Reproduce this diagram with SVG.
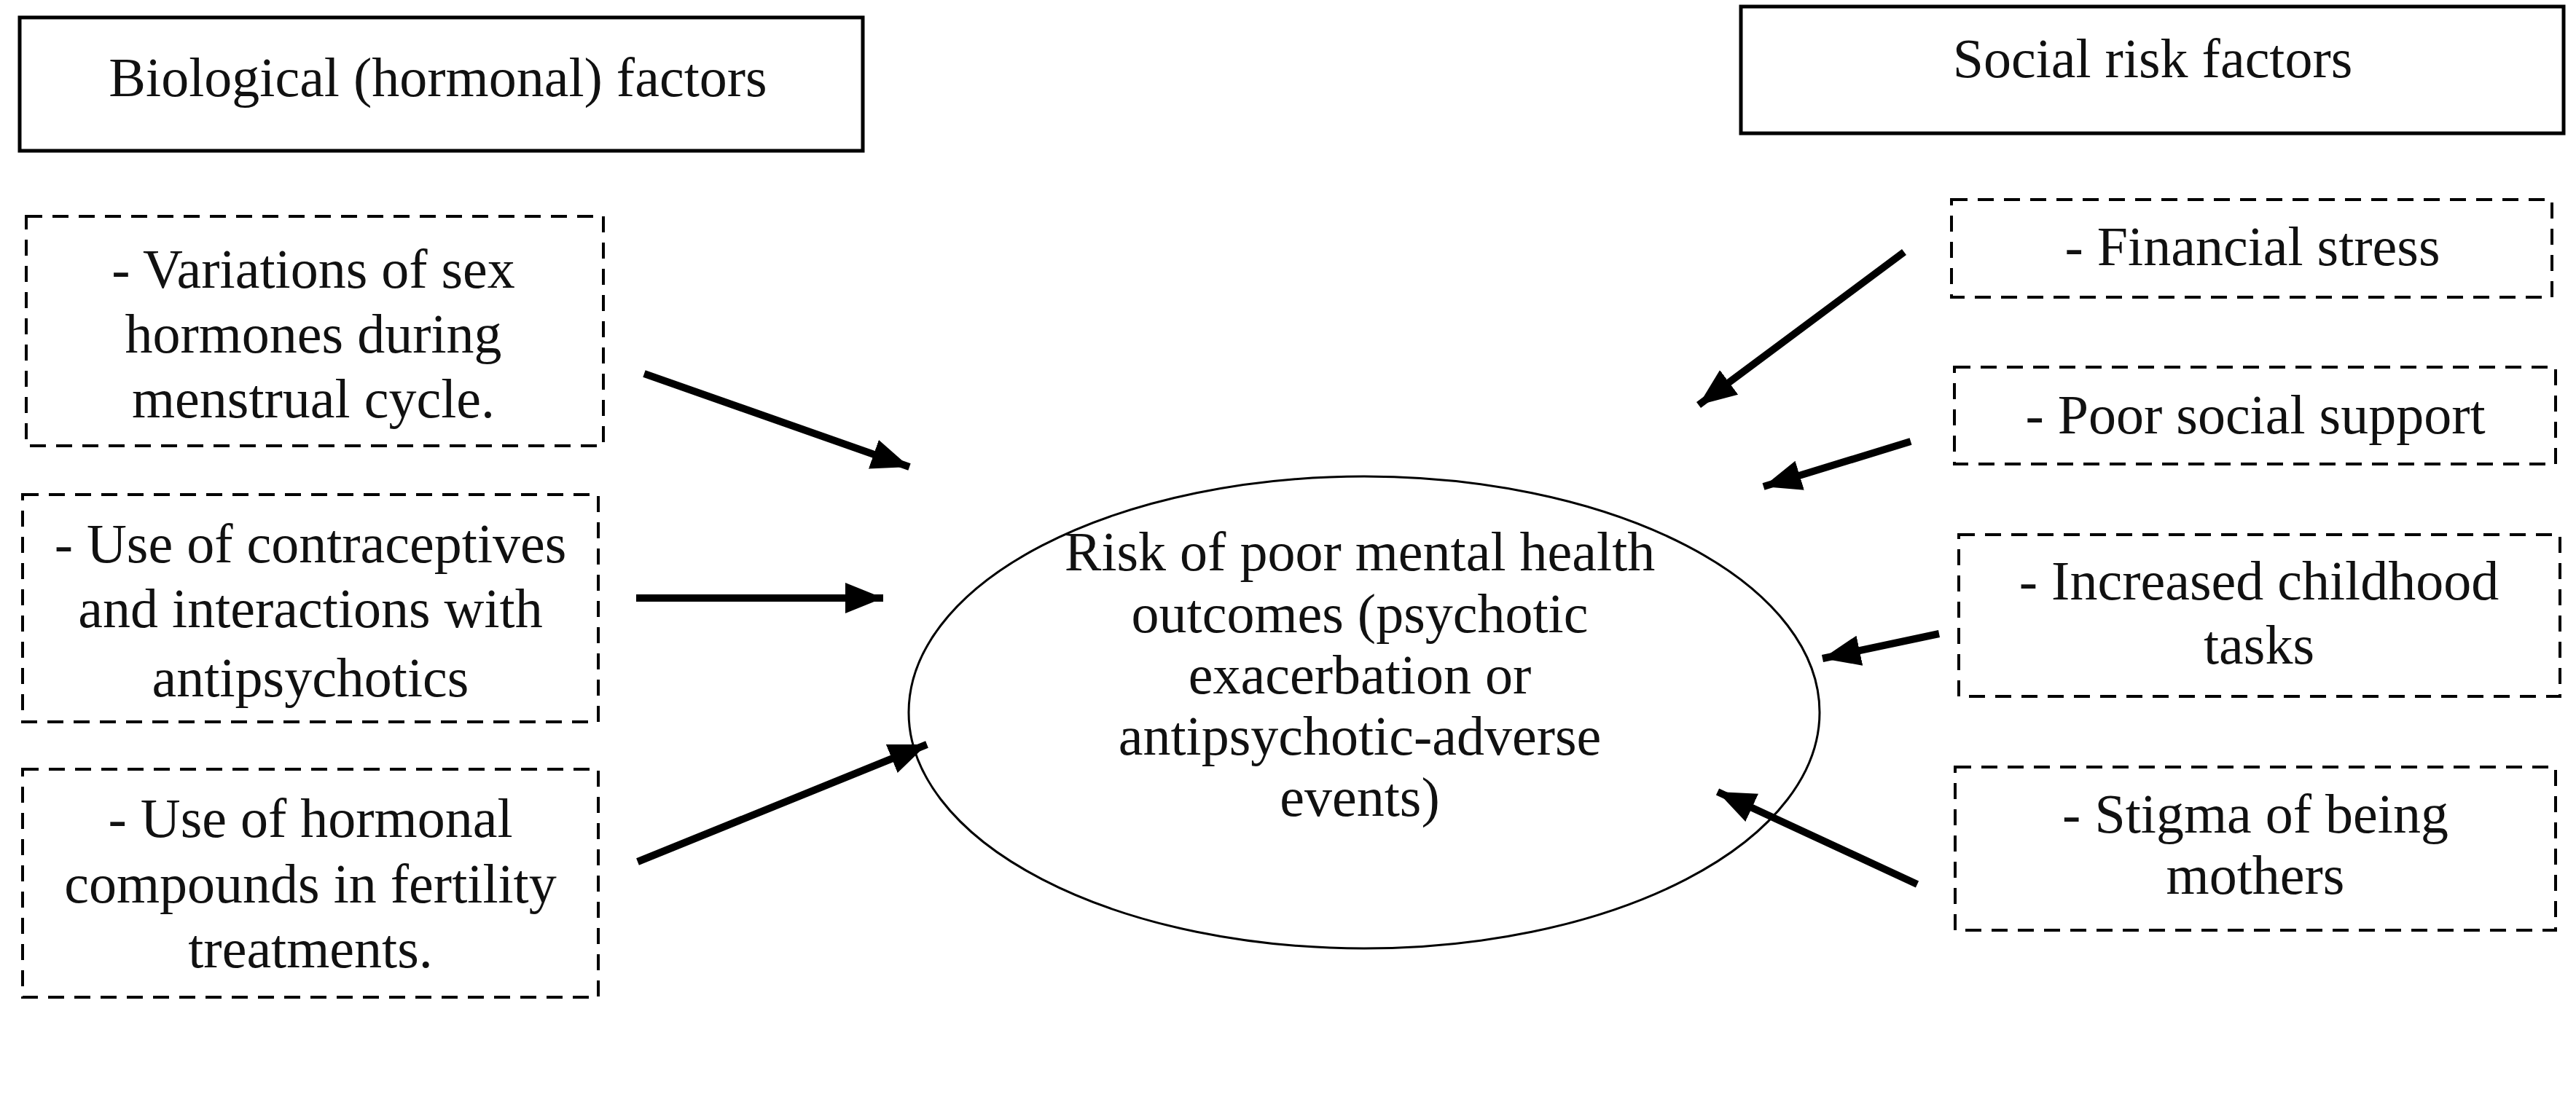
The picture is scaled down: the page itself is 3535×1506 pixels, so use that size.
<svg xmlns="http://www.w3.org/2000/svg" width="3535" height="1506" viewBox="0 0 3535 1506">
<style>
text{font-family:"Liberation Serif",serif;font-size:76px;fill:#111;text-anchor:middle}
.solid{fill:#fff;stroke:#000;stroke-width:5}
.dash{fill:#fff;stroke:#000;stroke-width:4;stroke-dasharray:22 14}
.arr{stroke:#000;stroke-width:10;fill:none;marker-end:url(#ah)}
</style>
<defs>
<marker id="ah" markerUnits="userSpaceOnUse" markerWidth="60" markerHeight="50" refX="52" refY="21" orient="auto">
<path d="M0,0 L52,21 L0,42 Z" fill="#000"/>
</marker>
</defs>
<rect width="3535" height="1506" fill="#fff"/>
<g id="bio-header"><rect class="solid" x="27" y="24" width="1157" height="183"/><text x="601" y="132" font-size="80">Biological (hormonal) factors</text></g>
<g id="social-header"><rect class="solid" x="2389" y="9" width="1129" height="174"/><text x="2954" y="106" font-size="80">Social risk factors</text></g>
<g id="bio1"><rect class="dash" x="36" y="297" width="792" height="315"/><text x="430" y="395">- Variations of sex</text><text x="430" y="484">hormones during</text><text x="430" y="573">menstrual cycle.</text></g>
<g id="bio2"><rect class="dash" x="31" y="679" width="790" height="312"/><text x="426" y="772">- Use of contraceptives</text><text x="426" y="861">and interactions with</text><text x="426" y="956">antipsychotics</text></g>
<g id="bio3"><rect class="dash" x="31" y="1056" width="790" height="313"/><text x="426" y="1149">- Use of hormonal</text><text x="426" y="1239">compounds in fertility</text><text x="426" y="1328">treatments.</text></g>
<g id="center"><ellipse cx="1872" cy="978" rx="625" ry="324" fill="#fff" stroke="#000" stroke-width="3"/>
<text x="1866" y="783">Risk of poor mental health</text><text x="1866" y="868">outcomes (psychotic</text><text x="1866" y="952">exacerbation or</text><text x="1866" y="1036">antipsychotic-adverse</text><text x="1866" y="1120">events)</text></g>
<g id="soc1"><rect class="dash" x="2678" y="274" width="824" height="134"/><text x="3091" y="364">- Financial stress</text></g>
<g id="soc2"><rect class="dash" x="2682" y="504" width="825" height="133"/><text x="3095" y="595">- Poor social support</text></g>
<g id="soc3"><rect class="dash" x="2688" y="734" width="825" height="222"/><text x="3100" y="823">- Increased childhood</text><text x="3100" y="911">tasks</text></g>
<g id="soc4"><rect class="dash" x="2683" y="1053" width="824" height="224"/><text x="3095" y="1143">- Stigma of being</text><text x="3095" y="1227">mothers</text></g>
<g id="connectors">
<line class="arr" x1="884" y1="513" x2="1248" y2="641"/>
<line class="arr" x1="873" y1="821" x2="1212" y2="821"/>
<line class="arr" x1="875" y1="1183" x2="1272" y2="1022"/>
<line class="arr" x1="2613" y1="346" x2="2331" y2="556"/>
<line class="arr" x1="2622" y1="606" x2="2420" y2="668"/>
<line class="arr" x1="2661" y1="870" x2="2501" y2="904"/>
<line class="arr" x1="2631" y1="1214" x2="2357" y2="1087"/>
</g>
</svg>
